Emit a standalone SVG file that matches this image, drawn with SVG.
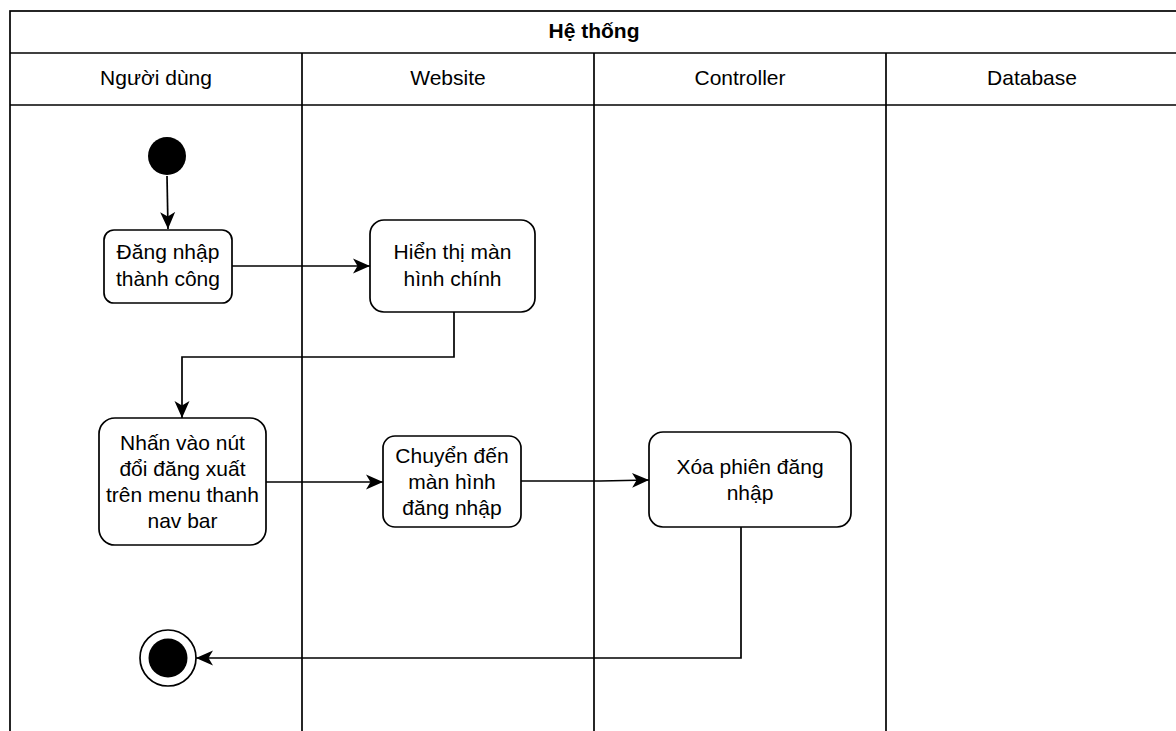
<svg xmlns="http://www.w3.org/2000/svg" width="1176" height="731" viewBox="0 0 1176 731">
  <style>
    .frame { fill: none; stroke: #000; stroke-width: 1.7; }
    .box { fill: #fff; stroke: #000; stroke-width: 1.7; }
    .edge { fill: none; stroke: #000; stroke-width: 1.7; }
    text { font-family: "Liberation Sans", Arial, sans-serif; font-size: 21px; fill: #000; text-anchor: middle; }
    .title { font-weight: bold; }
  </style>
  <defs>
    <marker id="arrow" markerUnits="userSpaceOnUse" markerWidth="18" markerHeight="18" viewBox="0 0 18 18" refX="17" refY="9" orient="auto">
      <path d="M0,1.5 L17,9 L0,16.5 L4.5,9 Z" fill="#000"/>
    </marker>
  </defs>
  <rect width="1176" height="731" fill="#fff"/>

  <!-- swimlane pool -->
  <g id="pool">
    <rect class="frame" x="10" y="11" width="1168" height="730"/>
    <line class="frame" x1="10" y1="53" x2="1178" y2="53"/>
    <line class="frame" x1="10" y1="105" x2="1178" y2="105"/>
    <line class="frame" x1="302" y1="53" x2="302" y2="741"/>
    <line class="frame" x1="594" y1="53" x2="594" y2="741"/>
    <line class="frame" x1="886" y1="53" x2="886" y2="741"/>
    <text class="title" x="594" y="38">Hệ thống</text>
    <text x="156" y="85">Người dùng</text>
    <text x="448" y="85">Website</text>
    <text x="740" y="85">Controller</text>
    <text x="1032" y="85">Database</text>
  </g>

  <!-- connectors -->
  <g id="edges">
    <path class="edge" d="M167,176 L168,229" marker-end="url(#arrow)"/>
    <path class="edge" d="M232,266 L370,266" marker-end="url(#arrow)"/>
    <path class="edge" d="M454,312 L454,357 L182,357 L182,418" marker-end="url(#arrow)"/>
    <path class="edge" d="M266,482 L383,482" marker-end="url(#arrow)"/>
    <path class="edge" d="M521,481 L600,481 L649,480" marker-end="url(#arrow)"/>
    <path class="edge" d="M741,527 L741,658 L196,658" marker-end="url(#arrow)"/>
  </g>

  <g id="start">
    <circle cx="167" cy="156" r="19" fill="#000"/>
  </g>

  <g id="login-ok">
    <rect class="box" x="104" y="230" width="128" height="73" rx="10"/>
    <text x="168" y="259">Đăng nhập</text>
    <text x="168" y="286">thành công</text>
  </g>

  <g id="show-main">
    <rect class="box" x="370" y="220" width="165" height="92" rx="14"/>
    <text x="452.5" y="259">Hiển thị màn</text>
    <text x="452.5" y="286">hình chính</text>
  </g>

  <g id="click-logout">
    <rect class="box" x="99" y="418" width="167" height="127" rx="16"/>
    <text x="182.5" y="450">Nhấn vào nút</text>
    <text x="182.5" y="476">đổi đăng xuất</text>
    <text x="182.5" y="502">trên menu thanh</text>
    <text x="182.5" y="528">nav bar</text>
  </g>

  <g id="goto-login">
    <rect class="box" x="383" y="436" width="138" height="91" rx="12"/>
    <text x="452" y="463">Chuyển đến</text>
    <text x="452" y="489">màn hình</text>
    <text x="452" y="515">đăng nhập</text>
  </g>

  <g id="clear-session">
    <rect class="box" x="649" y="432" width="202" height="95" rx="14"/>
    <text x="750" y="474">Xóa phiên đăng</text>
    <text x="750" y="500">nhập</text>
  </g>

  <g id="end">
    <circle cx="168" cy="658" r="28" fill="#fff" stroke="#000" stroke-width="1.7"/>
    <circle cx="168" cy="658" r="19.5" fill="#000"/>
  </g>
</svg>
